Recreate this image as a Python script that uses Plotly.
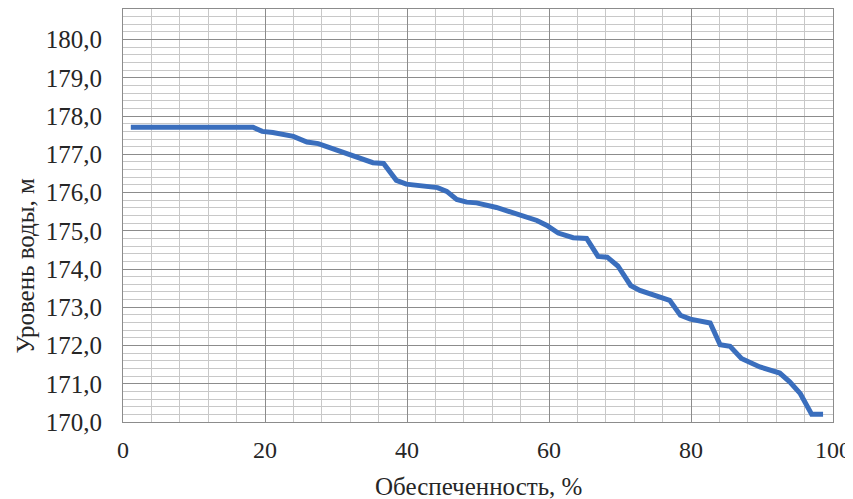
import plotly.graph_objects as go

# Обеспеченность, % (x) and Уровень воды, м (y)
supply_pct = [1.1, 5, 10, 15, 18.3, 19.6, 21.1, 24.0, 25.9, 27.5, 31.5, 35.2, 36.7,
              38.5, 39.9, 44.3, 45.6, 47.0, 48.4, 49.8, 52.6, 54.0, 58.3, 59.7,
              61.3, 63.4, 65.3, 66.9, 68.2, 69.7, 71.5, 72.8, 76.5, 77.0, 78.5,
              79.9, 82.7, 84.1, 85.5, 87.1, 89.7, 92.5, 93.9, 95.4, 97.0, 98.6]
water_level = [177.71, 177.71, 177.71, 177.71, 177.71, 177.6, 177.57, 177.47, 177.32,
               177.28, 177.02, 176.78, 176.76, 176.32, 176.22, 176.13, 176.03, 175.82,
               175.75, 175.73, 175.61, 175.52, 175.27, 175.14, 174.94, 174.82, 174.8,
               174.33, 174.31, 174.08, 173.57, 173.44, 173.2, 173.18, 172.79, 172.69,
               172.59, 172.02, 171.98, 171.66, 171.44, 171.28, 171.05, 170.74, 170.2, 170.2]

x_ticks = [0, 20, 40, 60, 80, 100]
y_ticks = [170, 171, 172, 173, 174, 175, 176, 177, 178, 179, 180]

FONT = "Liberation Serif"
TXT = "#262626"

fig = go.Figure()
fig.add_trace(go.Scatter(
    x=supply_pct, y=water_level, mode="lines",
    line=dict(color="#3a6ebd", width=5), showlegend=False,
))

# page body has an 8px margin, so the figure is drawn 8px smaller
fig.update_layout(
    width=845, height=491,
    margin=dict(l=115, r=20, t=1, b=77, autoexpand=False),
    paper_bgcolor="white", plot_bgcolor="white",
    separators=", ",
    font=dict(family=FONT, size=25, color=TXT),
)
fig.update_xaxes(
    range=[0, 100], tickvals=x_ticks, automargin=False,
    showgrid=True, gridcolor="#8c8c8c", gridwidth=1,
    minor=dict(dtick=4, showgrid=True, gridcolor="#c8c8c8", gridwidth=1),
    showline=True, linecolor="#8c8c8c", linewidth=1, mirror=True,
    zeroline=False, ticks="", ticklabelstandoff=6,
    tickfont=dict(family=FONT, size=24, color=TXT),
)
fig.update_yaxes(
    range=[170, 180.8], tickvals=y_ticks, tickformat=".1f", automargin=False,
    showgrid=True, gridcolor="#8c8c8c", gridwidth=1,
    minor=dict(dtick=0.2, tick0=170, showgrid=True, gridcolor="#c8c8c8", gridwidth=1),
    showline=True, linecolor="#8c8c8c", linewidth=1, mirror=True,
    zeroline=False, ticks="", ticklabelstandoff=15,
    tickfont=dict(family=FONT, size=25, color=TXT),
)
fig.add_annotation(text="Обеспеченность, %", xref="paper", yref="paper",
                   x=0.5, y=-0.157, xanchor="center", yanchor="middle",
                   showarrow=False, font=dict(family=FONT, size=25, color=TXT))
fig.add_annotation(text="Уровень воды, м", xref="paper", yref="paper",
                   x=-0.137, y=0.378, xanchor="center", yanchor="middle", textangle=-90,
                   borderpad=0, showarrow=False, font=dict(family=FONT, size=25, color=TXT))

fig.write_html("out.html")
